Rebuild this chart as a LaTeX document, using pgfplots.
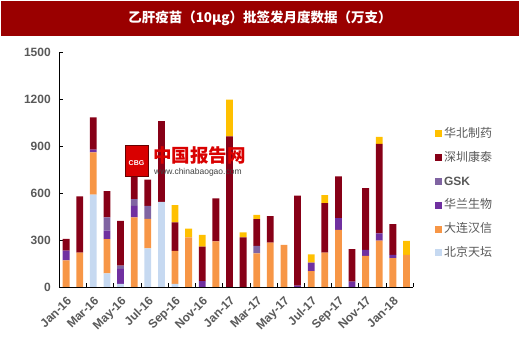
\documentclass[border=0pt]{standalone}
\usepackage{fontspec}
\setmainfont{Liberation Sans}
\newfontfamily\cjk{Noto Sans CJK SC}
\usepackage{pgfplots}
\pgfplotsset{compat=1.18}
\usepackage{pgfplotstable}
\definecolor{cLB}{HTML}{C6D9F1}
\definecolor{cOR}{HTML}{F79646}
\definecolor{cPU}{HTML}{7030A0}
\definecolor{cGSK}{HTML}{8064A2}
\definecolor{cDR}{HTML}{870017}
\definecolor{cYE}{HTML}{FFC000}
\definecolor{banner}{HTML}{9A0000}
\definecolor{tickgray}{HTML}{595959}
\pgfplotstableread{
x LB OR PU GSK DR YE
0 0 170 62 0 75 0
1 0 220 0 0 358 0
2 589 271 17 0 206 0
3 87 218 55 84 168 0
4 20 0 95 21 286 0
5 0 444 74 43 199 0
6 247 188 0 83 167 0
7 544 0 0 0 514 0
8 20 210 0 0 182 111
9 0 316 0 0 0 57
10 0 0 38 0 220 75
11 0 292 0 0 273 0
12 0 0 0 0 962 234
13 0 0 0 0 316 32
14 0 215 0 47 171 28
15 0 283 0 0 169 0
16 0 269 0 0 0 0
17 0 0 8 0 576 0
18 0 102 53 0 0 54
19 0 220 0 0 315 52
20 0 365 74 0 267 0
21 0 0 34 0 207 0
22 0 198 39 0 394 0
23 0 296 47 0 570 45
24 0 184 21 0 196 0
25 0 205 0 0 0 89
}\data
\pgfplotsset{sq/.style={fill=#1, draw=none, legend image code/.code={\fill[#1] (0pt,-3.5pt) rectangle (7pt,3.5pt);}}}
\begin{document}
\begin{tikzpicture}
\useasboundingbox (0pt,0pt) rectangle (520pt,343pt);
\fill[banner] (1pt,307pt) rectangle (519pt,342pt);
\node[text=white, font=\cjk\bfseries\fontsize{13.5}{14}\selectfont] at (260pt,325pt) {乙肝疫苗（10μg）批签发月度数据（万支）};
\begin{axis}[at={(59.3pt,56pt)}, anchor=south west, scale only axis,
  width=354pt, height=235pt,
  ybar stacked, bar width=6.8pt,
  xmin=-0.5, xmax=25.5, ymin=0, ymax=1500,
  enlargelimits=false, clip=false,
  axis lines*=left, axis line style={black, line width=0.8pt},
  xtick={-0.5,1.5,...,25.5}, xticklabels={},
  extra x ticks={0,2,...,24},
  extra x tick labels={Jan-16,Mar-16,May-16,Jul-16,Sep-16,Nov-16,Jan-17,Mar-17,May-17,Jul-17,Sep-17,Nov-17,Jan-18},
  extra x tick style={major tick length=0pt},
  ytick={0,300,...,1500},
  yticklabel={\pgfmathprintnumber[1000 sep={}]{\tick}},
  tick align=inside, major tick length=4pt,
  tick style={black, line width=0.8pt},
  /pgf/number format/assume math mode=true,
  /pgf/number format/1000 sep={},
  ticklabel style={font=\bfseries\fontsize{12}{12}\selectfont, text=tickgray},
  xticklabel style={yshift=-7pt, xshift=0pt, rotate=45, anchor=north east, inner sep=1pt},
  yticklabel style={xshift=-5pt},
  reverse legend,
  legend cell align=left,
  legend style={draw=none, fill=none, at={(1,0.6817)}, anchor=north west, xshift=22pt,
    font=\cjk\fontsize{12}{12}\selectfont, text=tickgray, row sep=9.8pt, inner sep=0pt,
    nodes={text height=9pt, text depth=2pt, inner sep=1.5pt}},
]
\addplot[sq=cLB] table[x=x,y=LB]{\data};
\addplot[sq=cOR] table[x=x,y=OR]{\data};
\addplot[sq=cPU] table[x=x,y=PU]{\data};
\addplot[sq=cGSK] table[x=x,y=GSK]{\data};
\addplot[sq=cDR] table[x=x,y=DR]{\data};
\addplot[sq=cYE] table[x=x,y=YE]{\data};
\addlegendentry{北京天坛}
\addlegendentry{大连汉信}
\addlegendentry{华兰生物}
\addlegendentry{{\rmfamily\bfseries GSK}}
\addlegendentry{深圳康泰}
\addlegendentry{华北制药}
\end{axis}
\node[fill=red!85!black, draw=red!40!black, minimum width=23pt, minimum height=31pt, inner sep=0pt, text=white, font=\bfseries\fontsize{7}{7}\selectfont] at (136.5pt,182pt) {\raisebox{-9pt}{CBG}};
\node[anchor=west, text=red!85!black, inner sep=0pt, font=\cjk\bfseries\fontsize{18.5}{19}\selectfont] at (153pt,187pt) {中国报告网};
\node[anchor=west, text=black!75, inner sep=0pt, font=\fontsize{8.5}{9}\selectfont] at (154pt,171pt) {www.chinabaogao.com};
\end{tikzpicture}
\end{document}
